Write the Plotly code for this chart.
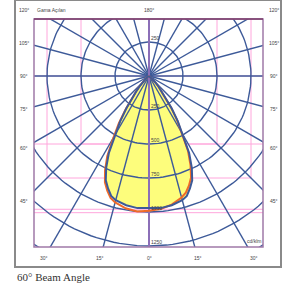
import numpy as np
import plotly.graph_objects as go

# ---------------- data ----------------
gamma = [0, 5, 10, 15, 17.5, 20, 22.5, 25, 27.5, 30, 32.5, 35, 37.5, 40, 42.5, 45, 50, 55, 60, 70, 80, 90]
# C90-C270 plane (blue, symmetric)
c90_270 = [970, 975, 965, 945, 925, 880, 830, 745, 640, 500, 395, 290, 200, 140, 100, 65, 30, 15, 8, 3, 1, 0]
# C0 plane (orange, right half) and C180 plane (orange, left half)
c0 = [990, 982, 960, 925, 900, 858, 808, 722, 622, 488, 385, 282, 195, 137, 98, 63, 29, 14, 7, 3, 1, 0]
c180 = [990, 1000, 988, 962, 940, 897, 847, 765, 665, 522, 412, 300, 206, 144, 102, 66, 31, 15, 8, 3, 1, 0]

ring_values = [250, 500, 750, 1000, 1250, 1500]
ring_labels = ["250", "500", "750", "1000", "1250"]
spoke_step = 15
side_angles = [120, 105, 90, 75, 60, 45]
side_labels = ["120°", "105°", "90°", "75°", "60°", "45°"]
bottom_angles = [-30, -15, 0, 15, 30]
bottom_labels = ["30°", "15°", "0°", "15°", "30°"]
pink_h = [0, -500, -980, -1005]
pink_box = [500, 750]

# ---------------- geometry ----------------
W, H = 286, 288
L, R, T, B = 34, 263, 19, 247
PX, PY = 149, 76
S = 0.136
xr = [(L - PX) / S, (R - PX) / S]
yr = [(PY - B) / S, (PY - T) / S]


def xp(px):
    return (px - L) / (R - L)


def yp(py):
    return (B - py) / (B - T)


def d2px(x):
    return (x - xr[0]) / (xr[1] - xr[0])


def d2py(y):
    return (y - yr[0]) / (yr[1] - yr[0])


BLUE = "#3d5a99"
ORANGE = "#f06a28"
PINK = "#ffa6dc"
PURPLE = "#8c6fb8"
TXT = "#444444"

fig = go.Figure()


def curve(left, right):
    g = np.radians(gamma)
    lx = -np.array(left) * np.sin(g)
    ly = -np.array(left) * np.cos(g)
    rx = np.array(right) * np.sin(g)
    ry = -np.array(right) * np.cos(g)
    x = list(lx[::-1]) + list(rx)
    y = list(ly[::-1]) + list(ry)
    return x, y


bx, by = curve(c90_270, c90_270)
ox, oy = curve(c180, c0)

# yellow fill
fig.add_trace(go.Scatter(x=bx, y=by, mode="lines", fill="toself",
                         fillcolor="#fdfd7c", line=dict(width=0), hoverinfo="skip"))

# polar grid
t = np.radians(np.arange(0, 361, 2))
gx, gy = [], []
for r in ring_values:
    gx += list(r * np.sin(t)) + [None]
    gy += list(-r * np.cos(t)) + [None]
for a in range(0, 360, spoke_step):
    ar = np.radians(a)
    gx += [0, 2500 * np.sin(ar), None]
    gy += [0, -2500 * np.cos(ar), None]
fig.add_trace(go.Scatter(x=gx, y=gy, mode="lines", line=dict(color=BLUE, width=1.4),
                         hoverinfo="skip"))

# center vertical line
fig.add_trace(go.Scatter(x=[0, 0], y=[yr[0], yr[1]], mode="lines",
                         line=dict(color=PURPLE, width=2), hoverinfo="skip"))

# curves
fig.add_trace(go.Scatter(x=ox, y=oy, mode="lines", line=dict(color=ORANGE, width=2),
                         hoverinfo="skip"))
fig.add_trace(go.Scatter(x=bx, y=by, mode="lines", line=dict(color=BLUE, width=2),
                         hoverinfo="skip"))

shapes = []
for yv in pink_h:
    shapes.append(dict(type="line", xref="x", yref="y", x0=xr[0], x1=xr[1], y0=yv, y1=yv,
                       line=dict(color=PINK, width=1), layer="below"))
for v in pink_box:
    shapes.append(dict(type="line", xref="x", yref="y", x0=-v, x1=v, y0=-v, y1=-v,
                       line=dict(color=PINK, width=1), layer="below"))
    for s in (-1, 1):
        shapes.append(dict(type="line", xref="x", yref="y", x0=s * v, x1=s * v, y0=-v, y1=yr[1],
                           line=dict(color=PINK, width=1), layer="below"))
# plot border
shapes.append(dict(type="rect", xref="paper", yref="paper", x0=0, x1=1, y0=0, y1=1,
                   line=dict(color="#a07aa8", width=1.5), layer="above"))
shapes.append(dict(type="line", xref="paper", yref="paper", x0=0, x1=1, y0=1, y1=1,
                   line=dict(color="#7a3a6a", width=1.5), layer="above"))
# outer frame
shapes.append(dict(type="rect", xref="paper", yref="paper", x0=xp(15), x1=xp(281),
                   y0=yp(267), y1=yp(0), line=dict(color="#8a8a8a", width=2)))

ann = []
small = dict(family="Liberation Sans, Arial", size=5, color=TXT)
for r, lab in zip(ring_values, ring_labels):
    ann.append(dict(x=0, y=-r, xref="x", yref="y", text=lab, showarrow=False,
                    xanchor="left", yanchor="bottom", xshift=0, yshift=-1, font=small))
ann.append(dict(x=0, y=ring_values[0], xref="x", yref="y", text=ring_labels[0], showarrow=False,
                xanchor="left", yanchor="bottom", yshift=-1, font=small))

XL = (24 - PX) / S
YB = -(258 - PY) / S
YT = (PY - 10) / S
for a, lab in zip(side_angles, side_labels):
    ar = np.radians(a)
    yv = min(-abs(XL) * np.cos(ar) / np.sin(ar), YT)
    for s in (-1, 1):
        ann.append(dict(x=d2px(s * abs(XL)), y=d2py(yv), xref="paper", yref="paper", text=lab,
                        showarrow=False, xanchor="center", yanchor="middle", font=small))
for a, lab in zip(bottom_angles, bottom_labels):
    xv = abs(YB) * np.tan(np.radians(a))
    ann.append(dict(x=d2px(xv), y=d2py(YB), xref="paper", yref="paper", text=lab,
                    showarrow=False, xanchor="center", yanchor="middle", font=small))
ann.append(dict(x=d2px(0), y=d2py(YT), xref="paper", yref="paper", text="180°",
                showarrow=False, xanchor="center", yanchor="middle", font=small))
ann.append(dict(x=xp(35), y=yp(10), xref="paper", yref="paper", text="Gama Açılan",
                showarrow=False, xanchor="left", yanchor="middle", font=small))
ann.append(dict(x=1, y=0, xref="paper", yref="paper", text="cd/klm", showarrow=False,
                xanchor="right", yanchor="bottom", yshift=1, font=small))
ann.append(dict(x=xp(15), y=yp(277), xref="paper", yref="paper", text="60° Beam Angle",
                showarrow=False, xanchor="left", yanchor="middle",
                font=dict(family="Liberation Serif, Times New Roman", size=11, color="#333333")))

fig.update_layout(
    width=W, height=H, autosize=False,
    margin=dict(l=L, r=W - R, t=T, b=H - B, pad=0),
    paper_bgcolor="white", plot_bgcolor="white",
    showlegend=False,
    xaxis=dict(range=xr, visible=False, showgrid=False, zeroline=False, fixedrange=True),
    yaxis=dict(range=yr, visible=False, showgrid=False, zeroline=False, fixedrange=True),
    shapes=shapes, annotations=ann,
)
fig.write_html(
    "out.html",
    config={"displayModeBar": False},
    post_script="document.body.style.margin='0';document.body.style.overflow='hidden';",
)
